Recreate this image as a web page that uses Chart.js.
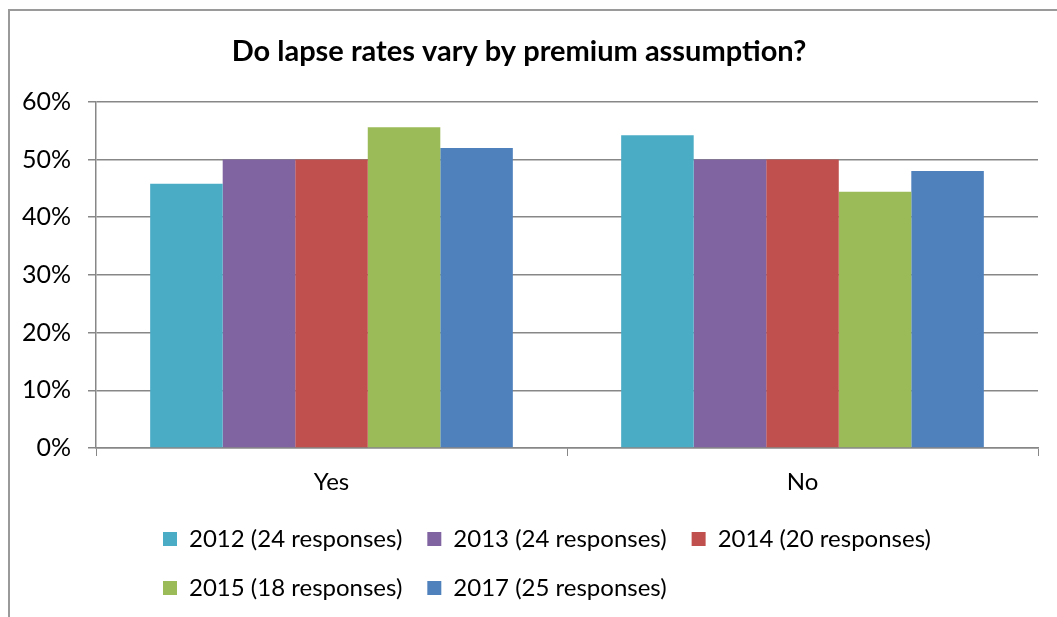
<!DOCTYPE html>
<html lang="en">
<head>
    <meta charset="UTF-8">
    <title>Do lapse rates vary by premium assumption?</title>
    <script src="https://cdn.jsdelivr.net/npm/chart.js"></script>
    <style>
        body { margin: 0; background: #fff; }
        .wrap { position: relative; width: 1057px; height: 617px; overflow: hidden; }
        .frame { position: absolute; left: 8px; top: 9px; width: 1100px; height: 700px;
                 border-left: 2px solid #9a9a9a; border-top: 2px solid #9a9a9a; pointer-events: none; }
    </style>
</head>
<body>
    <div class="wrap">
        <canvas id="chart" width="1057" height="617"></canvas>
        <div class="frame"></div>
    </div>

    <script>
        // chart data
        const categories = ['Yes', 'No'];
        const seriesNames = ['2012 (24 responses)', '2013 (24 responses)', '2014 (20 responses)', '2015 (18 responses)', '2017 (25 responses)'];
        const v2012 = [45.8, 54.2];
        const v2013 = [50, 50];
        const v2014 = [50, 50];
        const v2015 = [55.6, 44.4];
        const v2017 = [52, 48];
        const yTickLabels = ['0%', '10%', '20%', '30%', '40%', '50%', '60%'];

        const colors = ['#4BACC6', '#8064A2', '#C0504D', '#9BBB59', '#4F81BD'];
        const allValues = [v2012, v2013, v2014, v2015, v2017];
        const font = 'Lato, "Open Sans", sans-serif';
        const gridGray = '#878787';

        // put the legend rows where the original has them (left aligned rows)
        const legendPlace = {
            id: 'legendPlace',
            afterLayout(chart) {
                chart.legend.left = 138;
                chart.legend.right = 1057;
            }
        };

        new Chart(document.getElementById('chart'), {
            type: 'bar',
            data: {
                labels: categories,
                datasets: seriesNames.map((name, i) => ({
                    label: name,
                    data: allValues[i],
                    backgroundColor: colors[i],
                    borderWidth: 0,
                    categoryPercentage: 0.77,
                    barPercentage: 1
                }))
            },
            options: {
                responsive: false,
                animation: false,
                devicePixelRatio: 1,
                layout: { padding: { left: 0, right: 19, top: 0, bottom: 7 } },
                plugins: {
                    title: {
                        display: true,
                        text: 'Do lapse rates vary by premium assumption?',
                        color: '#000',
                        font: { family: font, size: 29, weight: 'bold', lineHeight: 1.2 },
                        padding: { top: 34, bottom: 33 }
                    },
                    legend: {
                        position: 'bottom',
                        align: 'start',
                        fullSize: false,
                        labels: {
                            color: '#000',
                            font: { family: font, size: 24 },
                            boxWidth: 14,
                            boxHeight: 14,
                            padding: 25
                        }
                    },
                    tooltip: { enabled: false }
                },
                scales: {
                    x: {
                        afterFit(scale) { scale.height = 54; },
                        grid: { display: true, drawOnChartArea: false, tickLength: 8, color: gridGray, offset: true },
                        border: { display: true, color: gridGray, width: 1.5 },
                        ticks: { color: '#000', font: { family: font, size: 24 }, padding: 12 }
                    },
                    y: {
                        min: 0,
                        max: 60,
                        afterFit(scale) { scale.width = 96; },
                        grid: { color: gridGray, tickLength: 8, lineWidth: 1.5 },
                        border: { display: true, color: gridGray, width: 1.5 },
                        ticks: {
                            stepSize: 10,
                            color: '#000',
                            font: { family: font, size: 25 },
                            padding: 17,
                            callback: (v, i) => yTickLabels[i]
                        }
                    }
                }
            },
            plugins: [legendPlace]
        });
    </script>
</body>
</html>
